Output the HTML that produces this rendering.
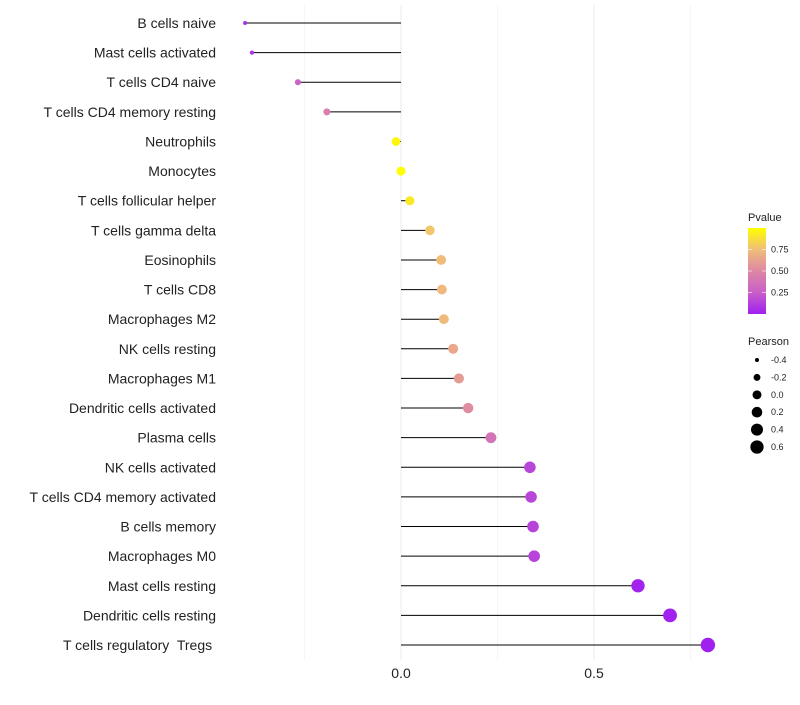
<!DOCTYPE html>
<html><head><meta charset="utf-8"><style>
body{margin:0;background:#fff}
svg text{font-family:"Liberation Sans",sans-serif;white-space:pre}
</style></head><body>
<svg id="c" width="800" height="700"></svg>
<script>
const cells=["B cells naive","Mast cells activated","T cells CD4 naive","T cells CD4 memory resting","Neutrophils","Monocytes","T cells follicular helper","T cells gamma delta","Eosinophils","T cells CD8","Macrophages M2","NK cells resting","Macrophages M1","Dendritic cells activated","Plasma cells","NK cells activated","T cells CD4 memory activated","B cells memory","Macrophages M0","Mast cells resting","Dendritic cells resting","T cells regulatory  Tregs "];
const pearson=[-0.404,-0.386,-0.267,-0.192,-0.013,0,0.023,0.075,0.104,0.106,0.111,0.135,0.150,0.174,0.233,0.334,0.337,0.342,0.345,0.614,0.697,0.795];
const pvalue=[0.05,0.08,0.28,0.45,0.97,1.0,0.92,0.78,0.74,0.73,0.73,0.65,0.6,0.52,0.38,0.15,0.15,0.14,0.14,0.01,0.005,0.0001];
const xTicks=[0,0.5];
const xGrid=[-0.25,0,0.25,0.5,0.75];
const pTicks=[0.25,0.5,0.75];
const sizeTicks=[-0.4,-0.2,0,0.2,0.4,0.6];
const NS="http://www.w3.org/2000/svg",svg=document.getElementById('c');
function el(t,a,p){const e=document.createElementNS(NS,t);for(const k in a)e.setAttribute(k,a[k]);(p||svg).appendChild(e);return e;}
const X=v=>401+v*386;
const Y=i=>23+i*(645-23)/(cells.length-1);
const R=v=>Math.sqrt(4+(v+0.4)*(52-4)/1.2);
const stops=[[0,[160,32,240]],[0.25,[200,95,200]],[0.5,[222,135,165]],[0.75,[240,190,120]],[1,[255,255,0]]];
function col(p){for(let i=1;i<stops.length;i++){if(p<=stops[i][0]){const a=stops[i-1],b=stops[i],t=(p-a[0])/(b[0]-a[0]);return 'rgb('+a[1].map((c,j)=>Math.round(c+(b[1][j]-c)*t)).join(',')+')';}}return 'rgb(255,255,0)';}
xGrid.forEach(g=>{const l=el('line',{x1:X(g),x2:X(g),y1:5,y2:660,stroke:'#ebebeb','stroke-width':g*4%2===0?1:0.5});

});
xTicks.forEach(t=>{const e=el('text',{x:X(t),y:678,'text-anchor':'middle','font-size':14,fill:'#222'});e.textContent=t.toFixed(1);

});
cells.forEach((c,i)=>{
const y=Y(i);
const t=el('text',{x:216,y:y+5,'text-anchor':'end','font-size':14,fill:'#222'});t.textContent=c;


const l=el('line',{x1:X(0),x2:X(pearson[i]),y1:y,y2:y,stroke:'#000','stroke-width':1});


const d=el('circle',{cx:X(pearson[i]),cy:y,r:R(pearson[i]),fill:col(pvalue[i])});


});
let tl=el('text',{x:748,y:221,'font-size':11,fill:'#222'});tl.textContent='Pvalue';


const defs=el('defs',{});const lg=el('linearGradient',{id:'g',x1:0,y1:1,x2:0,y2:0},defs);
stops.forEach(s=>el('stop',{offset:s[0],'stop-color':col(s[0])},lg));
const py=p=>314-p*86;
const bar=el('rect',{x:748,y:py(1),width:18,height:86,fill:'url(#g)'});


pTicks.forEach(p=>{el('line',{x1:748,x2:752,y1:py(p),y2:py(p),stroke:'#fff','stroke-opacity':0.6});el('line',{x1:762,x2:766,y1:py(p),y2:py(p),stroke:'#fff','stroke-opacity':0.6});
const e=el('text',{x:771,y:py(p)+3,'font-size':9,fill:'#222'});e.textContent=p.toFixed(2);

});
tl=el('text',{x:748,y:345,'font-size':11,fill:'#222'});tl.textContent='Pearson';


sizeTicks.forEach((s,i)=>{const y=360+i*17.4;
const d=el('circle',{cx:757,cy:y,r:R(s),fill:'#000'});


const e=el('text',{x:771,y:y+3,'font-size':9,fill:'#222'});e.textContent=s.toFixed(1);

});
</script>
</body></html>
